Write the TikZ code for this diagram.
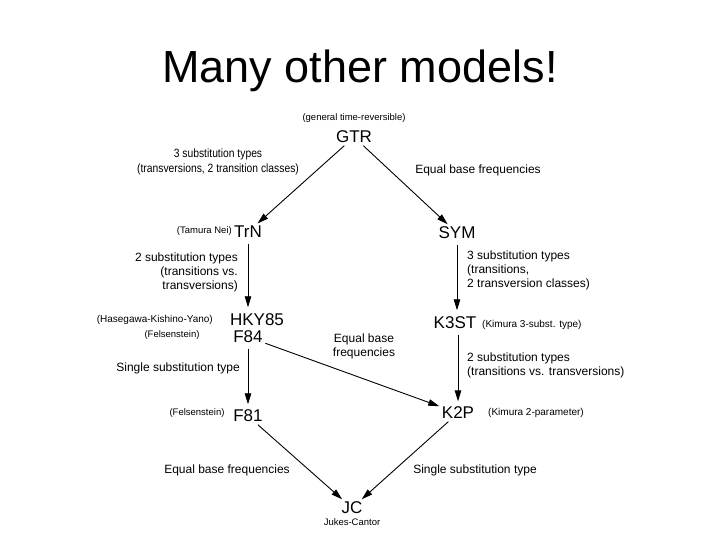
\documentclass[tikz,border=0pt]{standalone}
\usepackage{fontspec}
\setmainfont{Liberation Sans}
\newfontfamily\condensedsans[FakeStretch=0.86]{Liberation Sans}
\usetikzlibrary{arrows.meta}
\begin{document}
\begin{tikzpicture}[x=1pt,y=-1pt,
  model/.style={font=\fontsize{17}{20}\selectfont, inner sep=2.5pt},
  lbl/.style={font=\fontsize{12}{14}\selectfont, align=center, inner sep=0pt},
  note/.style={font=\fontsize{9.5}{11}\selectfont, inner sep=0pt},
  arr/.style={-{Triangle[length=11pt,width=6.5pt]}, line width=0.9pt}]
\useasboundingbox (0,0) rectangle (720,540);
\node[font=\fontsize{45}{50}\selectfont, anchor=base] (title) at (360,83) {Many other models!};
% models
\node[model] (gtr) at (354,137) {GTR};
\node[note] (gtrn) at (354,118) {(general time-reversible)};
\node[model] (trn) at (248,232) {TrN};
\node[note, anchor=east] (trnn) at (232,231) {(Tamura Nei)};
\node[model] (sym) at (457,233) {SYM};
\node[model] (hky) at (257,320) {HKY85};
\node[model] (f84) at (248,337) {F84};
\node[note, anchor=east] (hkyn) at (213,320) {\fontsize{10}{11}\selectfont(Hasegawa-Kishino-Yano)};
\node[note] (f84n) at (172,335) {(Felsenstein)};
\node[model] (k3st) at (455,323) {K3ST};
\node[note, anchor=west] (k3stn) at (482,325) {\fontsize{10}{11}\selectfont(Kimura 3-subst. type)};
\node[model] (k2p) at (458,413) {K2P};
\node[note, anchor=west] (k2pn) at (488,413) {\fontsize{10}{11}\selectfont(Kimura 2-parameter)};
\node[model] (f81) at (248,416) {F81};
\node[note] (f81n) at (197,413) {(Felsenstein)};
\node[model] (jc) at (352,508) {JC};
\node[note] (jcn) at (352,522) {Jukes-Cantor};
% labels
\node[lbl, font=\condensedsans\fontsize{12}{15}\selectfont] (l1) at (218,162) {3 substitution types\\(transversions, 2 transition classes)};
\node[lbl] (l2) at (478,170) {Equal base frequencies};
\node[lbl, align=right, anchor=east] (l3) at (238,272) {2 substitution types\\(transitions vs.\\transversions)};
\node[lbl, align=left, anchor=west] (l4) at (467,270) {3 substitution types\\(transitions,\\2 transversion classes)};
\node[lbl] (l5) at (364,346) {Equal base\\frequencies};
\node[lbl, align=left, anchor=west] (l6) at (467,365) {2 substitution types\\(transitions vs. transversions)};
\node[lbl, anchor=east] (l7) at (240,368) {Single substitution type};
\node[lbl] (l8) at (227,470) {Equal base frequencies};
\node[lbl] (l9) at (475,470) {Single substitution type};
% arrows
\draw[arr] (gtr) -- (trn);
\draw[arr] (gtr) -- (sym);
\draw[arr, shorten <=3pt, shorten >=4pt] (trn) -- (trn |- hky.north);
\draw[arr, shorten <=3pt, shorten >=4pt] (sym) -- (sym |- k3st.north);
\draw[arr] (f84) -- (k2p);
\draw[arr, shorten <=3pt, shorten >=3pt] (k3st.south -| k2p) -- (k2p.north);
\draw[arr, shorten <=3pt, shorten >=3pt] (f84) -- (f81);
\draw[arr] (f81) -- (jc);
\draw[arr] (k2p) -- (jc);
\end{tikzpicture}
\end{document}
